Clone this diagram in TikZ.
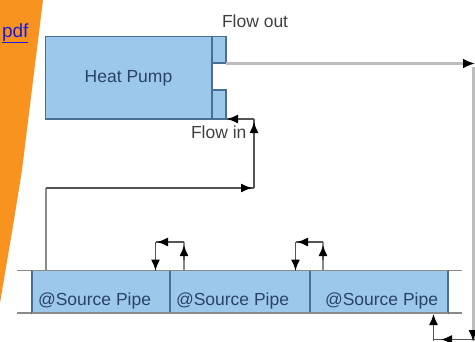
\documentclass[tikz,border=0pt]{standalone}
\usepackage{fontspec}
\setmainfont{Liberation Sans}
\usetikzlibrary{arrows.meta}
\definecolor{fillblue}{HTML}{9CC8EC}
\definecolor{edgeblue}{HTML}{4A6F92}
\definecolor{orangebar}{HTML}{F7931E}
\definecolor{linkblue}{HTML}{1A1AE0}
\definecolor{innertext}{HTML}{2C4464}
\definecolor{outertext}{HTML}{404040}
\definecolor{softgray}{HTML}{BDBDBD}
\definecolor{pipegray}{HTML}{8A8A8A}
\definecolor{flowgray}{HTML}{555555}
\tikzset{
  x=1pt,y=-1pt,
  every node/.style={inner sep=0pt,outer sep=0pt},
  box/.style={draw=edgeblue,fill=fillblue,line width=1.3pt,anchor=north west},
  label/.style={font=\fontsize{17.5}{20}\selectfont},
  innerlabel/.style={label,text=innertext},
  outerlabel/.style={label,text=outertext},
  flow/.style={draw=flowgray,line width=1.3pt,-{Latex[length=11pt,width=9pt,black]}},
  plain/.style={draw=flowgray,line width=1.3pt},
  rail/.style={draw=pipegray,line width=1.6pt},
  softline/.style={draw=softgray,line width=2.6pt},
}
\begin{document}
\begin{tikzpicture}
\useasboundingbox (0,0) rectangle (475,341);
\fill[orangebar] (0,0) -- (43,0) -- (22,170) -- (14,220) -- (0,303) -- cycle;
\node[anchor=base west,font=\fontsize{19}{22}\selectfont,text=linkblue] (link) at (2,37) {\underline{pdf}};

% heat pump
\node[box,minimum width=166.5pt,minimum height=82.5pt] (hp) at (45.5,36.5) {};
\node[innerlabel] (hplabel) at (128.5,78) {Heat Pump};
\node[box,minimum width=14pt,minimum height=26.5pt] (outstub) at (212,36.5) {};
\node[box,minimum width=14pt,minimum height=29pt] (instub) at (212,90) {};
\node[outerlabel,anchor=base west] (flowout) at (222,27) {Flow out};
\node[outerlabel,anchor=base west] (flowin) at (191,138) {Flow in};

% source pipes
\draw[rail] (17,270.5) -- (462,270.5);
\draw[rail] (17,313) -- (462,313);
\node[box,minimum width=138pt,minimum height=42.5pt] (p1) at (32,270.5) {};
\node[box,minimum width=140pt,minimum height=42.5pt] (p2) at (170,270.5) {};
\node[box,minimum width=138pt,minimum height=42.5pt] (p3) at (310,270.5) {};
\draw[rail] (p1.north west) -- (p3.north east);
\draw[rail] (p1.south west) -- (p3.south east);
\node[innerlabel,anchor=base west] (l1) at (38,305) {@Source Pipe};
\node[innerlabel,anchor=base west] (l2) at (176,305) {@Source Pipe};
\node[innerlabel,anchor=base west] (l3) at (325,305) {@Source Pipe};

% coordinates for connector ends
\coordinate (outstart) at (226,63.5);
\coordinate (outend) at (475,63.5);
\coordinate (r1top) at (473.5,67);
\coordinate (instart) at (46,270.5);
\coordinate (incorner1) at (46,188);
\coordinate (incorner2) at (254,188);
\coordinate (incorner3) at (254,119);
\coordinate (inend) at (227,119);
\coordinate (a1) at (184,270.5);
\coordinate (a2) at (184,242);
\coordinate (a3) at (155.5,242);
\coordinate (a4) at (155.5,270.5);
\coordinate (b1) at (323,270.5);
\coordinate (b2) at (323,242);
\coordinate (b3) at (295.5,242);
\coordinate (b4) at (295.5,270.5);
\coordinate (c1) at (433.5,341);
\coordinate (c2) at (433.5,314);
\coordinate (d1) at (433.5,339.5);
\coordinate (d2) at (475,339.5);

% flow out
\draw[softline] (outstart) -- (464,63.5);
\draw[draw=softgray,line width=2.6pt,-{Latex[length=12pt,width=10pt,black]}] (460,63.5) -- (outend);
\draw[softline] (r1top) -- (473.5,341);

% flow in
\draw[draw=pipegray,line width=1.6pt] (instart) -- (incorner1);
\draw[plain] (incorner1) -- (incorner2);
\draw[flow] (235,188) -- (252,188);
\draw[plain] (incorner2) -- (incorner3);
\draw[flow] (254,138) -- (254,122);
\draw[plain] (incorner3) -- (inend);
\draw[flow] (242,119) -- (inend);

% loops
\draw[draw=pipegray,line width=1.3pt] (a1) -- (a2);
\draw[flow] (184,260) -- (184,245);
\draw[plain] (a2) -- (a3);
\draw[flow] (172,242) -- (157,242);
\draw[plain] (a3) -- (a4);
\draw[flow] (155.5,255) -- (a4);
\draw[draw=pipegray,line width=1.3pt] (b1) -- (b2);
\draw[flow] (323,260) -- (323,245);
\draw[plain] (b2) -- (b3);
\draw[flow] (311,242) -- (297,242);
\draw[plain] (b3) -- (b4);
\draw[flow] (295.5,255) -- (b4);

% bottom right
\draw[flow] (c1) -- (c2);
\draw[plain] (d1) -- (d2);
\draw[flow] (455,339.5) -- (441,339.5);
\draw[draw=flowgray,line width=1.3pt,-{Latex[length=11pt,width=9pt,black]}] (473,330) -- (473,341);
\end{tikzpicture}
\end{document}
